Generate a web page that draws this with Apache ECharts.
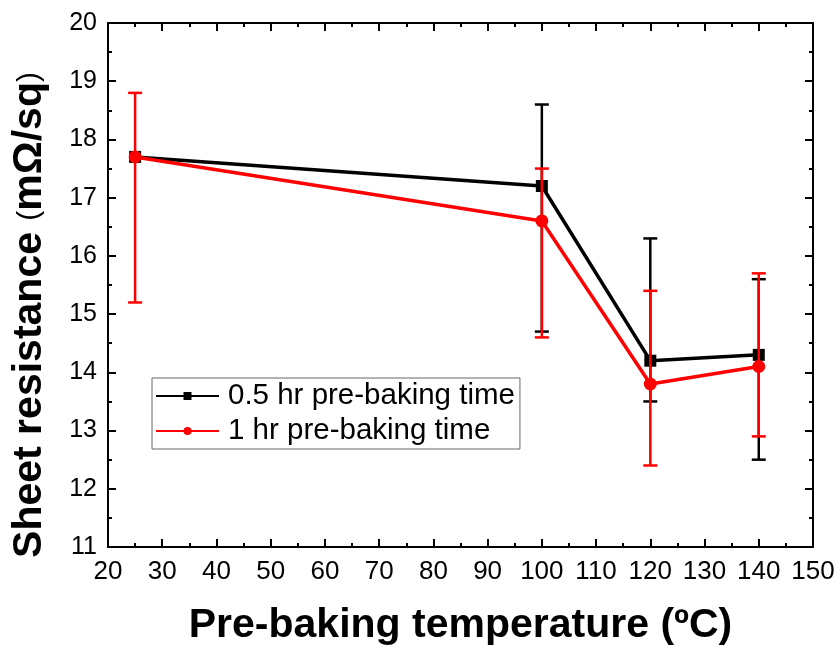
<!DOCTYPE html>
<html><head><meta charset="utf-8">
<script src="https://cdn.jsdelivr.net/npm/echarts@6/dist/echarts.min.js"></script>
<style>html,body{margin:0;padding:0;background:#fff}#c{width:837px;height:649px}</style>
</head><body><div id="c"></div>
<script>
const temps = [25, 100, 120, 140];
const halfHr = [17.7, 17.2, 14.2, 14.3];
const halfHrLow = [null, 14.7, 13.5, 12.5];
const halfHrHigh = [null, 18.6, 16.3, 15.6];
const oneHr = [17.7, 16.6, 13.8, 14.1];
const oneHrLow = [15.2, 14.6, 12.4, 12.9];
const oneHrHigh = [18.8, 17.5, 15.4, 15.7];
const seriesNames = ['0.5 hr pre-baking time', '1 hr pre-baking time'];

const pts = (ys) => temps.map((t, i) => [t, ys[i]]);
const errs = (lo, hi) => temps.map((t, i) => [t, lo[i], hi[i]]).filter(d => d[1] != null);

function errItem(color) {
  return function (params, api) {
    const x = api.value(0);
    const lo = api.coord([x, api.value(1)]);
    const hi = api.coord([x, api.value(2)]);
    const w = 7;
    const st = { stroke: color, lineWidth: 2.5 };
    return { type: 'group', children: [
      { type: 'line', shape: { x1: lo[0], y1: lo[1], x2: hi[0], y2: hi[1] }, style: st },
      { type: 'line', shape: { x1: lo[0] - w, y1: lo[1], x2: lo[0] + w, y2: lo[1] }, style: st },
      { type: 'line', shape: { x1: hi[0] - w, y1: hi[1], x2: hi[0] + w, y2: hi[1] }, style: st }
    ]};
  };
}

const chart = echarts.init(document.getElementById('c'));
const axisLine = { show: true, lineStyle: { color: '#000', width: 2 } };
const tick = { show: true, inside: true, length: 8, lineStyle: { color: '#000', width: 2 } };
const minor = { show: true, splitNumber: 2, length: 4, lineStyle: { color: '#000', width: 2 } };
const font = 'Liberation Sans';
chart.setOption({
  animation: false,
  grid: { left: 108, right: 24, top: 23, bottom: 102, containLabel: false, outerBoundsMode: 'none' },
  legend: {
    left: 152, top: 378, orient: 'vertical',
    data: seriesNames,
    itemWidth: 63, itemHeight: 10, itemGap: 3,
    borderColor: '#666', borderWidth: 1, padding: [2, 5, 2, 3],
    textStyle: { fontFamily: font, fontSize: 29.5, color: '#000', lineHeight: 32, padding: [0, 0, 0, 4] }
  },
  xAxis: [{
    type: 'value', min: 20, max: 150, interval: 10,
    axisLine, axisTick: tick, minorTick: minor, splitLine: { show: false },
    axisLabel: { fontFamily: font, fontSize: 26, color: '#000', margin: 12 },
    name: 'Pre-baking temperature (ºC)', nameLocation: 'middle', nameGap: 58,
    nameTextStyle: { fontFamily: font, fontWeight: 'bold', fontSize: 41, color: '#000' }
  }, {
    type: 'value', min: 20, max: 150, interval: 10, position: 'top',
    axisLine, axisTick: tick, minorTick: minor, splitLine: { show: false }, axisLabel: { show: false }
  }],
  yAxis: [{
    type: 'value', min: 11, max: 20, interval: 1,
    axisLine, axisTick: tick, minorTick: minor, splitLine: { show: false },
    axisLabel: { fontFamily: font, fontSize: 25, color: '#000', margin: 11 },
    name: 'Sheet resistance {p|(}mΩ/sq{p|)}', nameLocation: 'middle', nameGap: 58, nameRotate: 90,
    nameTextStyle: { fontFamily: font, fontWeight: 'bold', fontSize: 41, color: '#000', padding: [0, 60, 0, 0],
      rich: { p: { fontFamily: font, fontWeight: 'normal', fontSize: 30, color: '#000' } } }
  }, {
    type: 'value', min: 11, max: 20, interval: 1, position: 'right',
    axisLine, axisTick: tick, minorTick: minor, splitLine: { show: false }, axisLabel: { show: false }
  }],
  series: [
    { type: 'custom', name: 'err0', renderItem: errItem('#000'), data: errs(halfHrLow, halfHrHigh),
      encode: { x: 0, y: [1, 2] }, z: 2, silent: true },
    { type: 'line', name: seriesNames[0], data: pts(halfHr), color: '#000',
      symbol: 'rect', symbolSize: 12, lineStyle: { width: 3.5, color: '#000' },
      itemStyle: { color: '#000' }, z: 3 },
    { type: 'custom', name: 'err1', renderItem: errItem('#f00'), data: errs(oneHrLow, oneHrHigh),
      encode: { x: 0, y: [1, 2] }, z: 4, silent: true },
    { type: 'line', name: seriesNames[1], data: pts(oneHr), color: '#f00',
      symbol: 'circle', symbolSize: 13, lineStyle: { width: 3.5, color: '#f00' },
      itemStyle: { color: '#f00' }, z: 5 }
  ]
});
</script></body></html>
